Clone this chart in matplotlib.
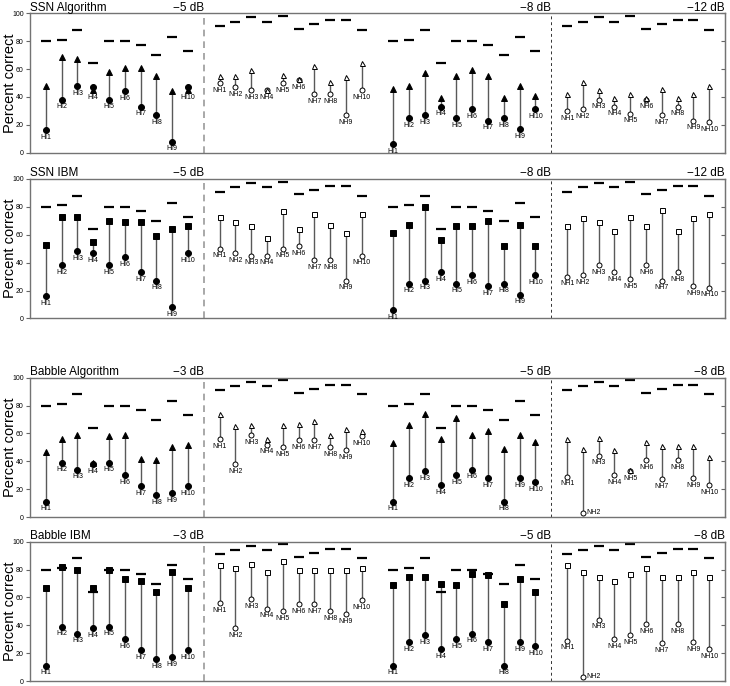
import matplotlib
matplotlib.use("Agg")
import matplotlib.pyplot as plt
import numpy as np

plt.rcParams["font.family"] = ["Liberation Sans", "DejaVu Sans"]

# subject labels and the fixed top dash per subject
hi_names = [f"HI{i}" for i in range(1, 11)]
nh_names = [f"NH{i}" for i in range(1, 11)]
hi_dash = [80, 81, 88, 64, 80, 80, 77, 70, 83, 73]
nh_dash = [91, 94, 97, 94, 98, 89, 92, 95, 95, 88]

# SSN, unprocessed (shared by algorithm and IBM panels)
ssn_hi_m5_unp = [16, 38, 48, 47, 38, 44, 33, 27, 8, 47]
ssn_nh_m8_unp = [50, 47, 45, 45, 50, 52, 42, 42, 27, 45]
ssn_hi_m8_unp = [6, 25, 27, 33, 25, 31, 23, 25, 17, 31]
ssn_nh_m12_unp = [30, 31, 38, 33, 28, 38, 27, 33, 23, 22]

ssn_alg_hi_m5 = [48, 69, 67, 45, 58, 61, 61, 55, 44, 45]
ssn_alg_nh_m8 = [55, 55, 59, 45, 56, 53, 62, 51, 54, 64]
ssn_alg_hi_m8 = [46, 48, 57, 39, 55, 59, 55, 39, 48, 41]
ssn_alg_nh_m12 = [42, 51, 45, 39, 42, 39, 46, 39, 42, 48]

ssn_ibm_hi_m5 = [53, 73, 73, 55, 70, 69, 69, 59, 64, 66]
ssn_ibm_nh_m8 = [73, 69, 66, 58, 77, 64, 75, 67, 61, 75]
ssn_ibm_hi_m8 = [61, 67, 80, 56, 66, 66, 70, 52, 67, 52]
ssn_ibm_nh_m12 = [66, 72, 69, 63, 73, 66, 78, 63, 72, 75]

# Babble, unprocessed
bab_hi_m3_unp = [11, 39, 34, 38, 39, 30, 22, 16, 17, 22]
bab_nh_m5_unp = [56, 38, 59, 52, 50, 55, 55, 50, 48, 58]
bab_hi_m5_unp = [11, 28, 33, 23, 30, 34, 28, 11, 28, 25]
bab_nh_m8_unp = [29, 3, 44, 30, 33, 41, 27, 41, 28, 23]

bab_alg_hi_m3 = [47, 56, 59, 39, 58, 59, 42, 41, 50, 52]
bab_alg_nh_m5 = [74, 65, 66, 56, 66, 67, 69, 59, 63, 62]
bab_alg_hi_m5 = [53, 66, 74, 56, 71, 59, 62, 49, 59, 54]
bab_alg_nh_m8 = [56, 49, 57, 48, 34, 54, 51, 51, 51, 43]

bab_ibm_hi_m3 = [67, 82, 80, 67, 80, 73, 72, 64, 78, 67]
bab_ibm_nh_m5 = [83, 81, 84, 78, 86, 80, 80, 80, 80, 81]
bab_ibm_hi_m5 = [69, 75, 75, 70, 69, 77, 76, 55, 73, 64]
bab_ibm_nh_m8 = [83, 78, 75, 72, 77, 81, 75, 75, 78, 75]

ssn_snrs = ["\u22125 dB", "\u22128 dB", "\u221212 dB"]
bab_snrs = ["\u22123 dB", "\u22125 dB", "\u22128 dB"]

SLOTS = np.arange(1, 11)
GROUP_OFFSETS = [0, 11, 22, 33]


def draw_group(ax, x, unp, proc, dash, names, filled, proc_marker):
    face = "black" if filled else "white"
    for xi, u, p in zip(x, unp, proc):
        ax.plot([xi, xi], [u, p], color="0.35", lw=1.0, zorder=1)
    ax.plot(x, dash, ls="none", marker="_", ms=7.0, mew=1.6, color="black", zorder=2)
    small = 4.3 if filled else 3.6
    ax.plot(x, unp, ls="none", marker="o", ms=small, mfc=face, mec="black",
            mew=0.7, zorder=3)
    ax.plot(x, proc, ls="none", marker=proc_marker, ms=small, mfc=face,
            mec="black", mew=0.7, zorder=4)
    for xi, u, p, name in zip(x, unp, proc, names):
        low = min(u, p)
        if low < 5:
            ax.annotate(name, (xi, low), xytext=(2.5, 0), textcoords="offset points",
                        ha="left", va="center", fontsize=5)
        else:
            ax.annotate(name, (xi, low), xytext=(0, -5.2), textcoords="offset points",
                        ha="center", va="center", fontsize=5)


def draw_panel(ax, title, snrs, proc_marker, groups):
    ax.set_xlim(0, 44)
    ax.set_ylim(0, 100)
    ax.set_xticks([])
    ax.set_yticks(range(0, 101, 20))
    ax.tick_params(axis="y", direction="out", length=3, labelsize=5, pad=1.5,
                   color="0.4")
    for sp in ax.spines.values():
        sp.set_color("0.45")
        sp.set_linewidth(1.0)
    sec = ax.secondary_yaxis("right")
    sec.set_yticks(range(0, 101, 20))
    sec.tick_params(direction="in", length=3, labelright=False, color="0.4")
    sec.spines["right"].set_color("0.45")

    ax.axvline(11, color="0.6", ls=(0, (4, 3)), lw=1.2, zorder=0)
    ax.axvline(33, color="0.2", ls=(0, (3, 3)), lw=0.7, zorder=0)

    names = [hi_names, nh_names, hi_names, nh_names]
    dashes = [hi_dash, nh_dash, hi_dash, nh_dash]
    filled = [True, False, True, False]
    for off, (unp, proc), nm, ds, fl in zip(GROUP_OFFSETS, groups, names, dashes, filled):
        marker = proc_marker if fl else proc_marker
        draw_group(ax, SLOTS + off, unp, proc, ds, nm, fl, marker)

    ax.text(0, 1.018, title, transform=ax.transAxes, ha="left", va="baseline",
            fontsize=8.5)
    for xr, s in zip([11, 33, 44], snrs):
        ax.text(xr, 101.8, s, ha="right", va="baseline", fontsize=8.5)


fig = plt.figure(figsize=(7.3, 6.86), dpi=100)
H = 686.0
tops = [13.3, 179.0, 377.7, 541.7]
ph = 139.4
axes = []
for t in tops:
    axes.append(fig.add_axes([30 / 730, 1 - (t + ph) / H, 695 / 730, ph / H]))

draw_panel(axes[0], "SSN Algorithm", ssn_snrs, "^", [
    (ssn_hi_m5_unp, ssn_alg_hi_m5), (ssn_nh_m8_unp, ssn_alg_nh_m8),
    (ssn_hi_m8_unp, ssn_alg_hi_m8), (ssn_nh_m12_unp, ssn_alg_nh_m12)])
draw_panel(axes[1], "SSN IBM", ssn_snrs, "s", [
    (ssn_hi_m5_unp, ssn_ibm_hi_m5), (ssn_nh_m8_unp, ssn_ibm_nh_m8),
    (ssn_hi_m8_unp, ssn_ibm_hi_m8), (ssn_nh_m12_unp, ssn_ibm_nh_m12)])
draw_panel(axes[2], "Babble Algorithm", bab_snrs, "^", [
    (bab_hi_m3_unp, bab_alg_hi_m3), (bab_nh_m5_unp, bab_alg_nh_m5),
    (bab_hi_m5_unp, bab_alg_hi_m5), (bab_nh_m8_unp, bab_alg_nh_m8)])
draw_panel(axes[3], "Babble IBM", bab_snrs, "s", [
    (bab_hi_m3_unp, bab_ibm_hi_m3), (bab_nh_m5_unp, bab_ibm_nh_m5),
    (bab_hi_m5_unp, bab_ibm_hi_m5), (bab_nh_m8_unp, bab_ibm_nh_m8)])

for ax in axes:
    pos = ax.get_position()
    fig.text(0.004, pos.y0 + pos.height / 2, "Percent correct", rotation=90,
             ha="left", va="center", fontsize=10.5)

fig.savefig("out.png", dpi=100)
